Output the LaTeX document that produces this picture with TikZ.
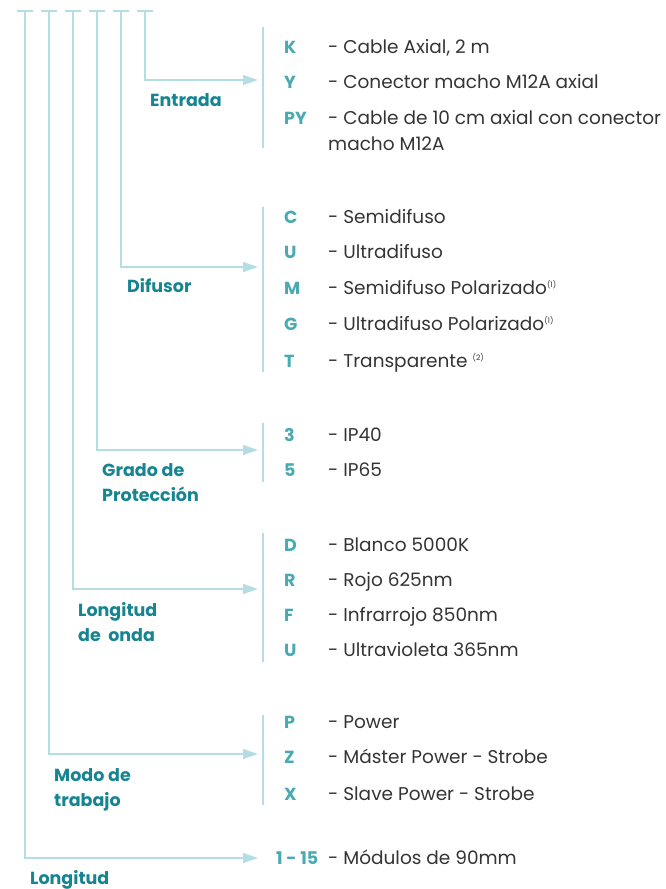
\documentclass[tikz,border=0pt]{standalone}
\usepackage{fontspec}
\setmainfont{Poppins}
\usepackage{tikz}
\usetikzlibrary{
  positioning,
  arrows.meta
}
\definecolor{linecyan}{RGB}{180,221,228}
\definecolor{labelteal}{RGB}{22,133,145}
\definecolor{codeteal}{RGB}{74,170,180}
\definecolor{textgray}{RGB}{52,52,52}
\newcommand{\nota}[1]{\raisebox{7pt}{\fontsize{7.5}{7.5}\selectfont(#1)}}

\begin{document}
\begin{tikzpicture}[
  x=1pt, y=-1pt,
  >={Triangle[length=15pt, width=10pt]},
  stem/.style={linecyan, line width=1.4pt},
  arr/.style={->, linecyan, line width=1.4pt},
  bracket/.style={linecyan, line width=1.4pt},
  group/.style={anchor=base west, inner sep=0pt, align=left,
                font=\fontsize{17.5}{25}\selectfont\bfseries, text=labelteal},
  code/.style={anchor=base west, inner sep=0pt,
               font=\fontsize{17.5}{20}\selectfont\bfseries, text=codeteal},
  item/.style={anchor=base west, inner sep=0pt, align=left,
               font=\fontsize{18.5}{26}\selectfont, text=textgray},
]
\useasboundingbox (0,0) rectangle (666,889);

% top ticks
\foreach \x in {25,49,...,145}
  \draw[stem] (\x-8,11) -- (\x+8,11);

% Entrada
\coordinate (entrada top) at (145,11);
\coordinate (entrada tip) at (258,80);
\draw[arr] (entrada top) |- (entrada tip);
\draw[bracket] (263,27) -- (263,148);
\node[group] (entrada) at (150,106) {Entrada};
\foreach \c/\t/\y in {K/{- Cable Axial, 2 m}/53.5,
                      Y/{- Conector macho M12A axial}/88.5}{
  \node[code] (entrada-\c) at (284,\y) {\c};
  \node[item] (entrada-\c-txt) at (328,\y) {\t};
}
\node[code] (entrada-PY) at (284,124.5) {PY};
\node[item] (entrada-PY-txt) at (328,150.5) {- Cable de 10 cm axial con conector\\macho M12A};

% Difusor
\coordinate (difusor top) at (121,11);
\coordinate (difusor tip) at (258,267);
\draw[arr] (difusor top) |- (difusor tip);
\draw[bracket] (263,207) -- (263,372);
\node[group] (difusor) at (127,292) {Difusor};
\foreach \c/\t/\y in {C/{- Semidifuso}/223.5,
                      U/{- Ultradifuso}/258.5,
                      M/{- Semidifuso Polarizado\nota{1}}/294.5,
                      G/{- Ultradifuso Polarizado\nota{1}}/330.5,
                      T/{- Transparente \nota{2}}/367.5}{
  \node[code] (difusor-\c) at (284,\y) {\c};
  \node[item] (difusor-\c-txt) at (328,\y) {\t};
}

% Grado de proteccion
\coordinate (grado top) at (97,11);
\coordinate (grado tip) at (258,450);
\draw[arr] (grado top) |- (grado tip);
\draw[bracket] (263,423) -- (263,482);
\node[group] (grado) at (102,501) {Grado de\\Protección};
\foreach \c/\t/\y in {3/{- IP40}/441.5,
                      5/{- IP65}/476.5}{
  \node[code] (grado-\c) at (284,\y) {\c};
  \node[item] (grado-\c-txt) at (328,\y) {\t};
}

% Longitud de onda
\coordinate (onda top) at (73,11);
\coordinate (onda tip) at (258,589);
\draw[arr] (onda top) |- (onda tip);
\draw[bracket] (263,533) -- (263,662);
\node[group] (onda) at (78,641) {Longitud\\de\ \ onda};
\foreach \c/\t/\y in {D/{- Blanco 5000K}/551.5,
                      R/{- Rojo 625nm}/586.5,
                      F/{- Infrarrojo 850nm}/621.5,
                      U/{- Ultravioleta 365nm}/656.5}{
  \node[code] (onda-\c) at (284,\y) {\c};
  \node[item] (onda-\c-txt) at (328,\y) {\t};
}

% Modo de trabajo
\coordinate (modo top) at (49,11);
\coordinate (modo tip) at (258,754);
\draw[arr] (modo top) |- (modo tip);
\draw[bracket] (263,715) -- (263,805);
\node[group] (modo) at (54,806) {Modo de\\trabajo};
\foreach \c/\t/\y in {P/{- Power}/728.5,
                      Z/{- Máster Power - Strobe}/763.5,
                      X/{- Slave Power - Strobe}/800.5}{
  \node[code] (modo-\c) at (284,\y) {\c};
  \node[item] (modo-\c-txt) at (328,\y) {\t};
}

% Longitud
\coordinate (longitud top) at (25,11);
\coordinate (longitud tip) at (258,858);
\draw[arr] (longitud top) |- (longitud tip);
\node[group] (longitud) at (30,884) {Longitud};
\node[code] (longitud-rango) at (276,864.5) {1 - 15};
\node[item] (longitud-txt) at (328,864.5) {- Módulos de 90mm};

\end{tikzpicture}
\end{document}
